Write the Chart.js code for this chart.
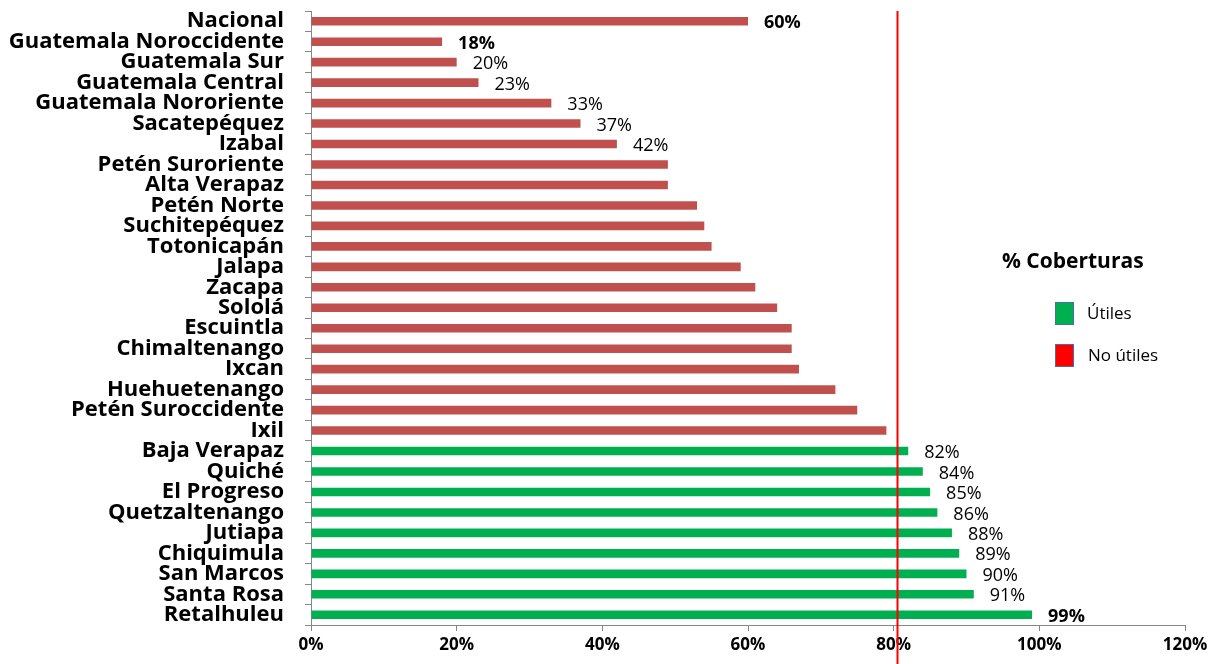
<!DOCTYPE html>
<html>
<head>
<meta charset="utf-8">
<script src="https://cdn.jsdelivr.net/npm/chart.js@4"></script>
<style>
  html, body { margin: 0; padding: 0; background: #fff; }
  .barChart { position: relative; width: 1222px; height: 664px; }
</style>
</head>
<body>
<div class="barChart chartjs"><canvas></canvas></div>
<script>
const categories = ["Nacional", "Guatemala Noroccidente", "Guatemala Sur", "Guatemala Central",
	"Guatemala Nororiente", "Sacatepéquez", "Izabal", "Petén Suroriente", "Alta Verapaz",
	"Petén Norte", "Suchitepéquez", "Totonicapán", "Jalapa", "Zacapa", "Sololá", "Escuintla",
	"Chimaltenango", "Ixcan", "Huehuetenango", "Petén Suroccidente", "Ixil", "Baja Verapaz",
	"Quiché", "El Progreso", "Quetzaltenango", "Jutiapa", "Chiquimula", "San Marcos",
	"Santa Rosa", "Retalhuleu"];
const coverage = [60, 18, 20, 23, 33, 37, 42, 49, 49, 53, 54, 55, 59, 61, 64, 66,
	66, 67, 72, 75, 79, 82, 84, 85, 86, 88, 89, 90, 91, 99];
// bars that carry a value label, and which of those are bold
const labelled = ["Nacional", "Guatemala Noroccidente", "Guatemala Sur", "Guatemala Central",
	"Guatemala Nororiente", "Sacatepéquez", "Izabal", "Baja Verapaz", "Quiché", "El Progreso",
	"Quetzaltenango", "Jutiapa", "Chiquimula", "San Marcos", "Santa Rosa", "Retalhuleu"];
const boldLabels = ["Nacional", "Guatemala Noroccidente", "Retalhuleu"];
const xTicks = [0, 20, 40, 60, 80, 100, 120];
const threshold = 80;
const refLine = 80.4;
const legendTitle = "% Coberturas";
const legendItems = ["Útiles", "No útiles"];

const green = "#00B050";
const red = "#C0504D";
const font = "'Open Sans', sans-serif";

const barColors = coverage.map(v => v >= threshold ? green : red);

const overlay = {
	id: "overlay",
	afterDatasetsDraw(chart) {
		const ctx = chart.ctx;
		const x = chart.scales.x;
		const meta = chart.getDatasetMeta(0);

		// value labels
		ctx.save();
		ctx.fillStyle = "#000";
		ctx.textAlign = "left";
		ctx.textBaseline = "middle";
		meta.data.forEach((bar, i) => {
			const name = categories[i];
			if (!labelled.includes(name)) return;
			ctx.font = (boldLabels.includes(name) ? "bold " : "") + "18px " + font;
			ctx.fillText(coverage[i] + "%", bar.x + 16, bar.y + 2);
		});
		ctx.restore();

		// 80% reference line
		const lx = Math.round(x.getPixelForValue(refLine)) + 0.5;
		ctx.save();
		ctx.strokeStyle = "#FF0000";
		ctx.lineWidth = 2;
		ctx.beginPath();
		ctx.moveTo(lx, chart.chartArea.top);
		ctx.lineTo(lx, chart.height);
		ctx.stroke();
		ctx.restore();

		// legend box
		ctx.save();
		ctx.fillStyle = "#000";
		ctx.textBaseline = "middle";
		ctx.textAlign = "left";
		ctx.font = "bold 21px " + font;
		ctx.fillText(legendTitle, 1002, 262);
		const fills = [green, "#FF0000"];
		legendItems.forEach((txt, i) => {
			const y = 302 + i * 42;
			ctx.fillStyle = fills[i];
			ctx.fillRect(1055, y, 19, 23);
			ctx.strokeStyle = "#4A6FA5";
			ctx.lineWidth = 1;
			ctx.strokeRect(1055.5, y + 0.5, 18, 22);
			ctx.fillStyle = "#000";
			ctx.font = "17px " + font;
			ctx.fillText(txt, 1087 + i, y + 12);
		});
		ctx.restore();
	}
};

const chartjsContainer = document.querySelector(".barChart.chartjs");
const chartjsCanvas = chartjsContainer.querySelector("canvas");
const chartjsBarChart = new Chart(chartjsCanvas, {
	type: "bar",
	data: {
		labels: categories,
		datasets: [{
			label: "% Coberturas",
			data: coverage,
			backgroundColor: barColors,
			borderWidth: 0,
			barPercentage: 0.42,
			categoryPercentage: 1
		}]
	},
	options: {
		indexAxis: "y",
		responsive: true,
		maintainAspectRatio: false,
		animation: false,
		layout: { padding: { top: 11, right: 37, left: 0, bottom: 0 } },
		plugins: {
			legend: { display: false },
			tooltip: { enabled: false }
		},
		scales: {
			x: {
				min: 0,
				max: 120,
				afterBuildTicks: scale => { scale.ticks = xTicks.map(v => ({ value: v })); },
				afterFit: scale => { scale.height = 39; },
				border: { color: "#868686", width: 1 },
				grid: { drawOnChartArea: false, drawTicks: true, tickLength: 6, color: "#868686" },
				ticks: {
					color: "#000",
					padding: 4,
					font: { family: font, size: 17, weight: "bold" },
					callback: v => v + "%"
				}
			},
			y: {
				afterFit: scale => {
					scale.width = 311;
					scale.paddingTop = 0;
					scale.paddingBottom = 0;
				},
				border: { color: "#868686", width: 1 },
				grid: { offset: true, drawOnChartArea: false, drawTicks: true, tickLength: 6, color: "#868686" },
				ticks: {
					color: "#000",
					padding: 21,
					autoSkip: false,
					font: { family: font, size: 22, weight: "bold", lineHeight: 1.0 }
				}
			}
		}
	},
	plugins: [overlay]
});
</script>
</body>
</html>
